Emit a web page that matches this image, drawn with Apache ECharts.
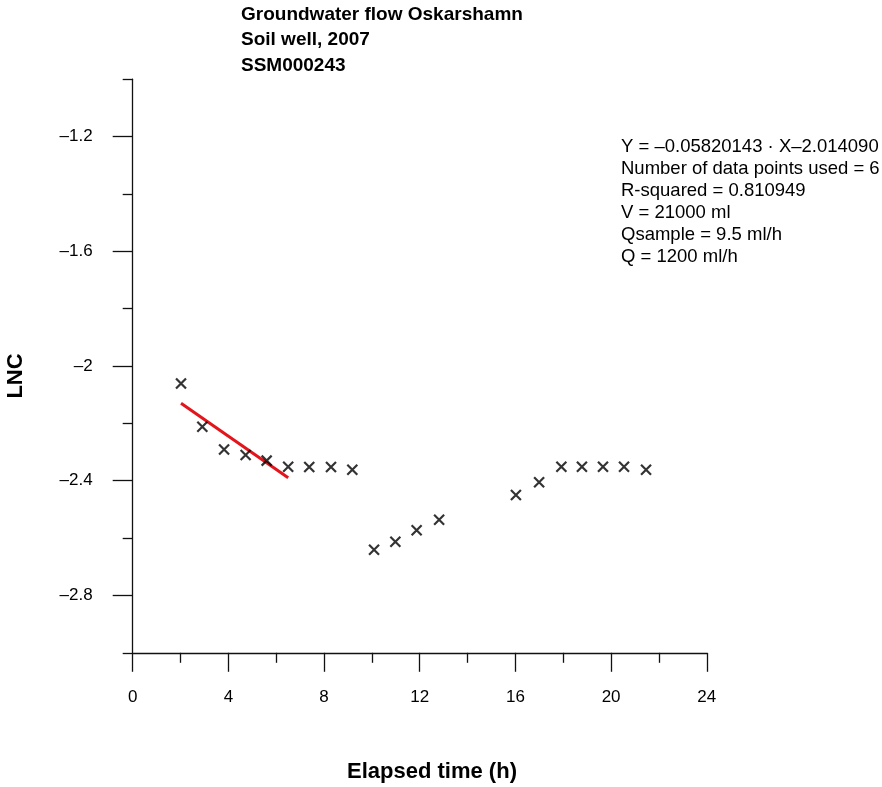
<!DOCTYPE html>
<html>
<head>
<meta charset="utf-8">
<script src="https://cdn.jsdelivr.net/npm/echarts@6/dist/echarts.min.js"></script>
<style>
  html, body { margin: 0; padding: 0; background: #fff; }
  #chart { width: 882px; height: 787px; }
</style>
</head>
<body>
<div id="chart"></div>
<script>
// measured values (hours, ln C)
const timeH = [2.02, 2.91, 3.82, 4.72, 5.60, 6.50, 7.38, 8.29, 9.18, 10.09, 10.98, 11.87, 12.81, 16.02, 16.99, 17.92, 18.78, 19.66, 20.54, 21.46]
const lnc = [-2.061, -2.212, -2.291, -2.310, -2.330, -2.351, -2.352, -2.352, -2.362, -2.641, -2.613, -2.573, -2.536, -2.450, -2.405, -2.351, -2.351, -2.351, -2.351, -2.362]
// regression line end points
const fitX = [2.02, 6.50]
const fitY = [-2.13, -2.39]
// y axis ticks
const yMajor = [-2.8, -2.4, -2.0, -1.6, -1.2]
const yMinor = [-3.0, -2.6, -2.2, -1.8, -1.4, -1.0]
const titleLines = ['Groundwater flow Oskarshamn', 'Soil well, 2007', 'SSM000243']
const infoLines = [
  'Y = –0.05820143 · X–2.014090',
  'Number of data points used = 6',
  'R-squared = 0.810949',
  'V = 21000 ml',
  'Qsample = 9.5 ml/h',
  'Q = 1200 ml/h'
]

const font = 'Liberation Sans, Arial, sans-serif'
const dash = v => String(v).replace('-', '–')

const chart = echarts.init(document.getElementById('chart'))
const axisLine = { lineStyle: { color: '#111', width: 1.3 } }

const option = {
  animation: false,
  backgroundColor: '#fff',
  title: {
    text: titleLines.join('\n'),
    left: 241,
    top: 2,
    padding: 0,
    textStyle: { fontFamily: font, fontSize: 19, fontWeight: 'bold', color: '#000', lineHeight: 25.5 }
  },
  graphic: [{
    type: 'text',
    left: 621,
    top: 136,
    style: {
      text: infoLines.join('\n'),
      fontFamily: font,
      fontSize: 18.5,
      lineHeight: 22,
      fill: '#000'
    }
  }, {
    // x axis title
    type: 'text',
    x: 432,
    y: 772,
    style: {
      text: 'Elapsed time (h)',
      fontFamily: font,
      fontSize: 22,
      fontWeight: 'bold',
      fill: '#000',
      align: 'center',
      verticalAlign: 'middle'
    }
  }, {
    // y axis title
    type: 'text',
    x: 16,
    y: 376,
    rotation: Math.PI / 2,
    style: {
      text: 'LNC',
      fontFamily: font,
      fontSize: 22,
      fontWeight: 'bold',
      fill: '#000',
      align: 'center',
      verticalAlign: 'middle'
    }
  }],
  grid: { left: 132.7, right: 175.2, top: 79.2, bottom: 134.2, containLabel: false },
  xAxis: {
    type: 'value',
    min: 0,
    max: 24,
    interval: 4,
    axisLine: axisLine,
    axisTick: { length: 19, lineStyle: { color: '#111', width: 1.3 } },
    minorTick: { show: true, splitNumber: 2, length: 10, lineStyle: { color: '#111', width: 1.3 } },
    axisLabel: { margin: 36, fontFamily: font, fontSize: 17, color: '#000' },
    splitLine: { show: false }
  },
  yAxis: [{
    type: 'value',
    min: -3.0,
    max: -1.0,
    axisLine: Object.assign({ show: true }, axisLine),
    axisTick: { show: true, length: 20, customValues: yMajor, lineStyle: { color: '#111', width: 1.3 } },
    axisLabel: { customValues: yMajor, margin: 40, fontFamily: font, fontSize: 17, color: '#000', formatter: dash },
    splitLine: { show: false }
  }, {
    type: 'value',
    position: 'left',
    min: -3.0,
    max: -1.0,
    axisLine: { show: false },
    axisTick: { show: true, length: 10, customValues: yMinor, lineStyle: { color: '#111', width: 1.3 } },
    axisLabel: { show: false },
    splitLine: { show: false }
  }],
  series: [{
    type: 'scatter',
    data: timeH.map((t, i) => [t, lnc[i]]),
    symbol: 'path://M0,0L10,10M10,0L0,10',
    symbolSize: 10,
    itemStyle: { color: 'transparent', borderColor: '#000', borderWidth: 2.2 },
    z: 3
  }, {
    type: 'line',
    data: fitX.map((x, i) => [x, fitY[i]]),
    showSymbol: false,
    lineStyle: { color: '#e3141b', width: 3 },
    z: 2
  }]
}

chart.setOption(option)
</script>
</body>
</html>
